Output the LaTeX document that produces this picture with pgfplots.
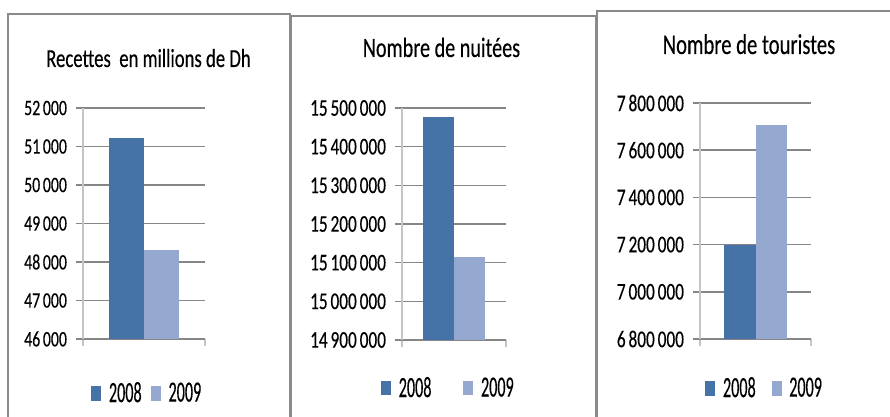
\documentclass[border=0pt]{standalone}
\usepackage{pgfplots}
\pgfplotsset{compat=1.18}
\usepackage{fontspec}
\setmainfont{Carlito}[FakeStretch=0.72, FakeBold=0.3]
\newfontfamily\legfont{Carlito}[FakeStretch=0.55, FakeBold=0.3]

\definecolor{bar08}{HTML}{4673A7}
\definecolor{bar09}{HTML}{95A9D0}
\definecolor{gridc}{HTML}{868686}
\definecolor{axc}{HTML}{C4C4C4}
\definecolor{framec}{HTML}{8A8A8A}

\pgfplotsset{
  panel/.style={
    scale only axis,
    ybar=0pt,
    xmin=0, xmax=2,
    xtick={0,2}, xticklabels={,,},
    axis lines*=left,
    x axis line style={draw=gridc, line width=1pt},
    y axis line style={draw=axc, line width=1pt},
    xtick style={draw=axc, line width=1pt},
    ytick style={draw=gridc, line width=1.1pt},
    tick align=outside,
    major tick length=5.5pt,
    ymajorgrids,
    major grid style={draw=gridc, line width=1.1pt},
    scaled y ticks=false,
    yticklabel style={font=\fontsize{18}{20}\selectfont, xshift=-3pt},
    /pgf/number format/.cd, fixed, precision=0, 1000 sep={\hspace{0.12em}}, assume math mode=true,
    /pgfplots/.cd,
    legend columns=2,
    legend style={draw=none, fill=none, font=\legfont\fontsize{22}{24}\selectfont, anchor=center,
      inner sep=0pt},
    legend image code/.code={\fill[##1,draw=none] (0pt,-5.6pt) rectangle (7.5pt,5.6pt);},
  },
}

\begin{document}
\begin{tikzpicture}
\useasboundingbox (0pt,0pt) rectangle (667.5pt,-312.75pt);
\fill[white] (0pt,0pt) rectangle (667.5pt,-312.75pt);

\begin{scope}[x=0.75pt, y=-0.75pt]
  \draw[framec, line width=1.5pt] (8,417) -- (8,14) -- (290,14) -- (290,417);
  \draw[framec, line width=1.5pt] (291,417) -- (291,16) -- (596,16) -- (596,417);
  \draw[framec, line width=1.5pt] (597,417) -- (597,11) -- (890,11);
  \node[anchor=base, font=\fontsize{19.5}{22}\selectfont, inner sep=0pt] at (148.5,67) {Recettes~ en millions de Dh};
  \node[anchor=base, font=\fontsize{21}{24}\selectfont, inner sep=0pt] at (441.5,57) {Nombre de nuitées};
  \node[anchor=base, font=\fontsize{21.5}{24}\selectfont, inner sep=0pt] at (749,54) {Nombre de touristes};
\end{scope}

% Recettes
\begin{axis}[panel,
  at={(62.25pt,-254.25pt)}, anchor=origin,
  width=91.5pt, height=173.25pt,
  bar width=26.25pt,
  yticklabel style={font=\fontsize{16.5}{18}\selectfont},
  ymin=46000, ymax=52000, ytick={46000,47000,...,52000},
  legend style={at={(0.53,-0.234)}},
  legend style={/tikz/every even column/.append style={column sep=5pt}},
]
\addplot[fill=bar08, draw=none] coordinates {(1,51220)};
\addplot[fill=bar09, draw=none] coordinates {(1,48310)};
\legend{\,2008,\,2009}
\end{axis}

% Nuitees
\begin{axis}[panel,
  at={(301.5pt,-255pt)}, anchor=origin,
  width=78pt, height=174pt,
  bar width=23.25pt,
  ymin=14900000, ymax=15500000, ytick={14900000,15000000,15100000,15200000,15300000,15400000,15500000},
  legend style={at={(0.45,-0.207)}},
  legend style={/tikz/every even column/.append style={column sep=22pt}},
]
\addplot[fill=bar08, draw=none] coordinates {(1,15477000)};
\addplot[fill=bar09, draw=none] coordinates {(1,15115000)};
\legend{\,2008,\,2009}
\end{axis}

% Touristes
\begin{axis}[panel,
  at={(525pt,-254.25pt)}, anchor=origin,
  width=83.25pt, height=177pt,
  bar width=23.6pt,
  ymin=6800000, ymax=7800000, ytick={6800000,7000000,7200000,7400000,7600000,7800000},
  legend style={at={(0.586,-0.208)}},
  legend style={/tikz/every even column/.append style={column sep=10pt}},
]
\addplot[fill=bar08, draw=none] coordinates {(1,7200000)};
\addplot[fill=bar09, draw=none] coordinates {(1,7707000)};
\legend{\,2008,\,2009}
\end{axis}
\end{tikzpicture}
\end{document}
